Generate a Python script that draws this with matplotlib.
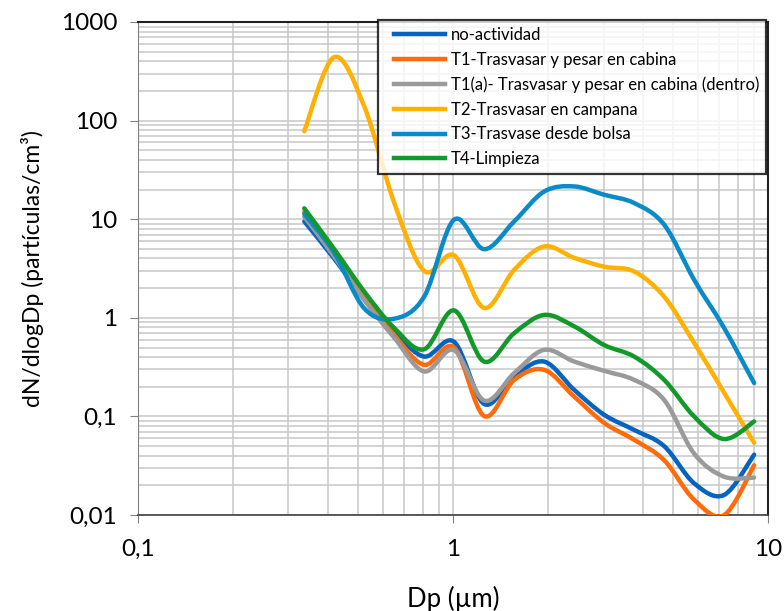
import numpy as np
import matplotlib
matplotlib.use("Agg")
import matplotlib.pyplot as plt
from matplotlib.path import Path
from matplotlib.patches import PathPatch
from matplotlib.lines import Line2D
from matplotlib.legend_handler import HandlerLine2D
from matplotlib.ticker import FixedLocator, FuncFormatter, LogLocator, NullFormatter

plt.rcParams['font.family'] = ['Lato', 'DejaVu Sans']

# diametros de canal (um)
dp = [0.337, 0.419, 0.522, 0.650, 0.809, 1.007, 1.254, 1.562,
      1.944, 2.421, 3.014, 3.752, 4.672, 5.816, 7.241, 9.016]

no_actividad = [9.5, 4.0, 1.55, 0.73, 0.405, 0.57, 0.134, 0.254,
                0.36, 0.186, 0.104, 0.073, 0.05, 0.021, 0.016, 0.041]
t1 = [11.9, 4.5, 1.64, 0.67, 0.334, 0.50, 0.101, 0.235,
      0.297, 0.159, 0.086, 0.058, 0.036, 0.0143, 0.010, 0.032]
t1a = [10.6, 4.2, 1.52, 0.63, 0.286, 0.47, 0.145, 0.275,
       0.473, 0.36, 0.29, 0.235, 0.147, 0.042, 0.0245, 0.024]
t2 = [78, 440, 140, 14.7, 3.0, 4.3, 1.26, 3.07,
      5.3, 4.06, 3.3, 2.95, 1.64, 0.557, 0.174, 0.054]
t3 = [11.3, 4.6, 1.25, 0.98, 1.64, 9.9, 4.97, 9.5,
      19.1, 21.5, 17.7, 14.6, 8.8, 2.43, 0.79, 0.218]
t4 = [12.9, 5.0, 1.85, 0.79, 0.48, 1.19, 0.36, 0.70,
      1.07, 0.82, 0.53, 0.405, 0.235, 0.1, 0.059, 0.089]

labels = ['no-actividad', 'T1-Trasvasar y pesar en cabina',
          'T1(a)- Trasvasar y pesar en cabina (dentro)',
          'T2-Trasvasar en campana', 'T3-Trasvase desde bolsa', 'T4-Limpieza']
series = [no_actividad, t1, t1a, t2, t3, t4]
colors = ['#0563C1', '#FF6A0A', '#9A9A9A', '#FFB000', '#0A8AC6', '#12992A']


def smooth_path(x, y):
    # linea suavizada tipo Excel (bezier sobre los puntos, en espacio log)
    lx, ly = np.log10(x), np.log10(y)
    pts = np.column_stack([lx, ly])
    n = len(pts)
    verts = [pts[0]]
    codes = [Path.MOVETO]
    for i in range(n - 1):
        p0 = pts[i - 1] if i > 0 else pts[i]
        p1, p2 = pts[i], pts[i + 1]
        p3 = pts[i + 2] if i + 2 < n else pts[i + 1]
        c1 = p1 + (p2 - p0) / 6.0
        c2 = p2 - (p3 - p1) / 6.0
        verts += [c1, c2, p2]
        codes += [Path.CURVE4] * 3
    verts = 10 ** np.array(verts)
    return Path(verts, codes)


class PadHandler(HandlerLine2D):
    # deja un hueco a la izquierda de la muestra de linea
    def create_artists(self, legend, orig_handle, xdescent, ydescent,
                       width, height, fontsize, trans):
        gap = 7
        return super().create_artists(legend, orig_handle, xdescent - gap, ydescent,
                                      width - gap, height, fontsize, trans)


fig = plt.figure(figsize=(7.84, 6.11), dpi=100)
ax = fig.add_axes([0.176, 0.157, 0.804, 0.807])
ax.set_xscale('log')
ax.set_yscale('log')
ax.set_xlim(0.1, 10)
ax.set_ylim(0.01, 1000)

ax.grid(True, which='both', color='#c8c8c8', linewidth=1.1, zorder=0)
ax.set_axisbelow(True)

handles = []
for vals, col, lab in zip(series, colors, labels):
    ax.add_patch(PathPatch(smooth_path(dp, vals), fill=False, edgecolor=col,
                           linewidth=3.2, capstyle='round', joinstyle='round', zorder=3))
    handles.append(Line2D([], [], color=col, linewidth=3.2, label=lab))

fmt = FuncFormatter(lambda v, p: ('%g' % v).replace('.', ','))
ax.xaxis.set_major_locator(FixedLocator([0.1, 1, 10]))
ax.yaxis.set_major_locator(FixedLocator([0.01, 0.1, 1, 10, 100, 1000]))
ax.xaxis.set_major_formatter(fmt)
ax.yaxis.set_major_formatter(fmt)
ax.xaxis.set_minor_locator(LogLocator(base=10, subs=np.arange(2, 10)))
ax.yaxis.set_minor_locator(LogLocator(base=10, subs=np.arange(2, 10)))
ax.xaxis.set_minor_formatter(NullFormatter())
ax.yaxis.set_minor_formatter(NullFormatter())
ax.tick_params(axis='both', which='major', labelsize=17.5, length=6,
               color='#808080', direction='out')
ax.tick_params(axis='y', which='major', pad=9)
ax.tick_params(axis='x', which='major', pad=11)
ax.tick_params(axis='both', which='minor', length=0)

for side in ['top', 'right']:
    ax.spines[side].set_color('#202020')
    ax.spines[side].set_linewidth(1.5)
ax.spines['left'].set_color('#808080')
ax.spines['bottom'].set_color('#404040')
ax.spines['bottom'].set_linewidth(1.2)

ax.set_xlabel('Dp (µm)', fontsize=18.5, labelpad=19)
ax.set_ylabel('dN/dlogDp (partículas/cm³)', fontsize=16.5, labelpad=12)

leg = fig.legend(handles=handles, loc='upper right', bbox_to_anchor=(0.977, 0.967),
                 fontsize=12, frameon=True, fancybox=False, handlelength=3.6,
                 borderpad=0.42, labelspacing=0.52, handletextpad=0.36, borderaxespad=0,
                 handler_map={Line2D: PadHandler()})
leg.get_frame().set_edgecolor('black')
leg.get_frame().set_linewidth(1.6)
leg.set_zorder(5)

fig.savefig('out.png', dpi=100)
